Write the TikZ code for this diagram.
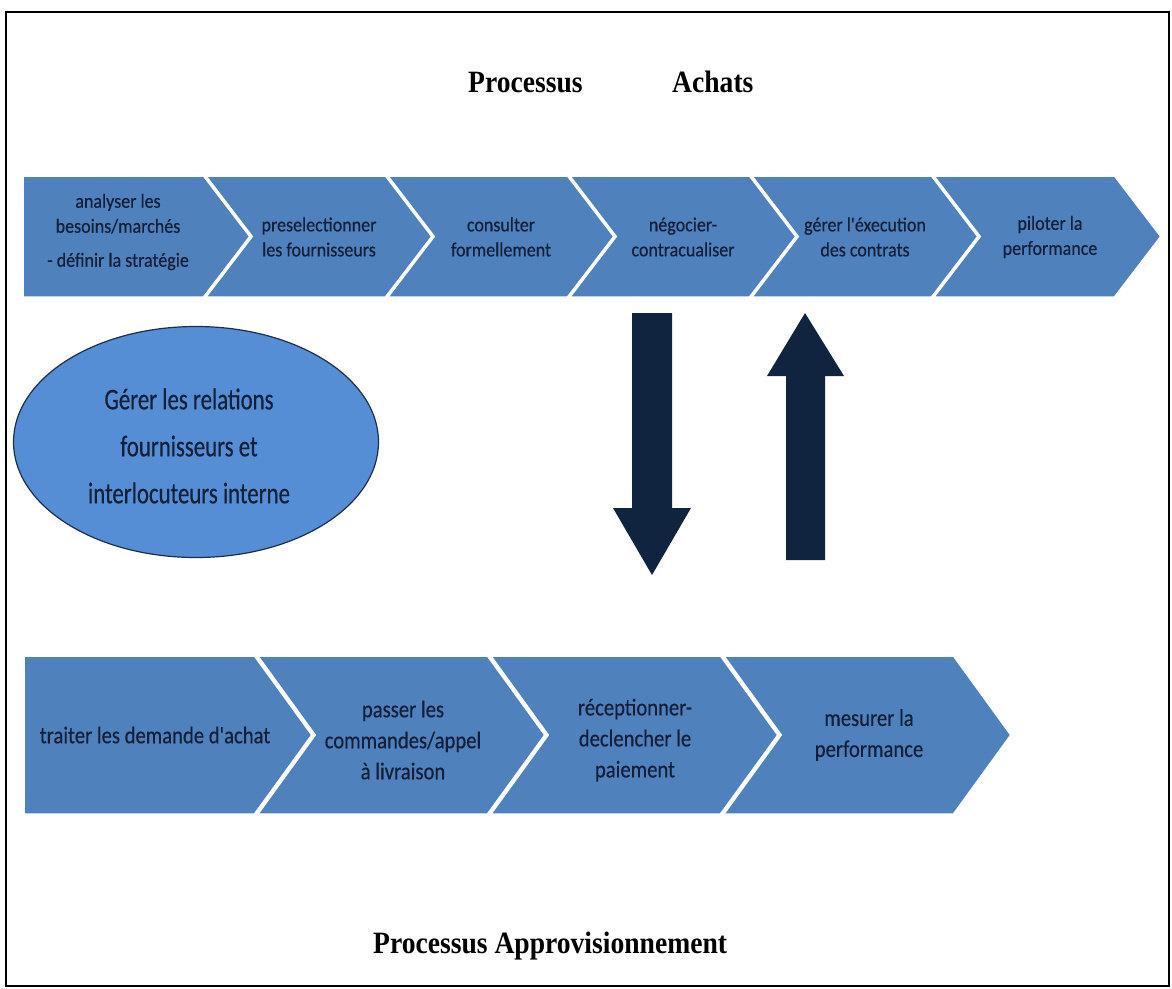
\documentclass[tikz,border=0pt]{standalone}
\usepackage{fontspec}
\setmainfont{Liberation Serif}
\newfontfamily\titlefont[FakeStretch=0.89]{Liberation Serif}
\newfontfamily\chevfont[FakeStretch=0.9,FakeBold=0.4]{Carlito}
\newfontfamily\botfont[FakeStretch=0.86,FakeBold=0.4]{Carlito}
\newfontfamily\ellfont[FakeStretch=0.76,FakeBold=0.4]{Carlito}
\usetikzlibrary{shapes.geometric}
\definecolor{chevblue}{RGB}{79,129,189}
\definecolor{ellblue}{RGB}{85,142,213}
\definecolor{navy}{RGB}{16,36,64}
\definecolor{txtnavy}{RGB}{20,31,56}
\definecolor{ellline}{RGB}{30,45,75}
\tikzset{
  chev/.style={fill=chevblue, draw=white, line width=3.5pt, line join=miter},
  toptxt/.style={font=\chevfont\fontsize{20}{25}\selectfont, text=txtnavy, align=center, inner sep=0pt},
  bottxt/.style={font=\botfont\fontsize{24}{31}\selectfont, text=txtnavy, align=center, inner sep=0pt},
  titletxt/.style={font=\titlefont\bfseries\fontsize{31}{36}\selectfont, text=black, anchor=base west, inner sep=0pt},
  blockarrow/.style={fill=navy},
  frame/.style={draw=black, line width=2pt}
}
\begin{document}
\begin{tikzpicture}[x=1pt,y=-1pt]
\useasboundingbox (0,0) rectangle (1172,988);
\fill[white] (0,0) rectangle (1172,988);
\draw[frame] (6,12) rectangle (1169,986);

% titles
\node[titletxt] (ttlA) at (468,92) {Processus};
\node[titletxt] (ttlB) at (672,92) {Achats};
\node[titletxt] (ttlC) at (373,953) {Processus Approvisionnement};

% top chevrons
\path[chev] (22,175) -- (205,175) -- (252,236.5) -- (205,298) -- (22,298) -- cycle;
\foreach \L in {204,386,568,750,932}
  \path[chev] (\L,175) -- ++(183,0) -- ++(47,61.5) -- ++(-47,61.5) -- ++(-183,0) -- ++(47,-61.5) -- cycle;

\node[toptxt] (t1) at (118,232) {analyser les\\besoins/marchés\\[9pt]- définir la stratégie};
\node[toptxt] (t2) at (319,237) {preselectionner\\les fournisseurs};
\node[toptxt] (t3) at (501,237) {consulter\\formellement};
\node[toptxt] (t4) at (683,237) {négocier-\\contracualiser};
\node[toptxt] (t5) at (865,237) {gérer l'éxecution\\des contrats};
\node[toptxt] (t6) at (1050,237) {piloter la\\performance};

% bottom chevrons
\path[chev] (23,655) -- (255,655) -- (313,735) -- (255,815) -- (23,815) -- cycle;
\foreach \L in {256,489,722}
  \path[chev] (\L,655) -- ++(232,0) -- ++(58,80) -- ++(-58,80) -- ++(-232,0) -- ++(58,-80) -- cycle;

\node[bottxt] (b1) at (155,735) {traiter les demande d'achat};
\node[bottxt] (b2) at (403,740) {passer les\\commandes/appel\\à livraison};
\node[bottxt] (b3) at (635,740) {réceptionner-\\declencher le\\paiement};
\node[bottxt] (b4) at (869,735) {mesurer la\\performance};

% ellipse
\node[ellipse, fill=ellblue, draw=ellline, line width=1.2pt, minimum width=365pt, minimum height=231pt, inner sep=0pt] (ell) at (196,442) {};
\node[font=\ellfont\fontsize{30}{47}\selectfont, text=txtnavy, align=center, inner sep=0pt] (ellt) at (189,446) {Gérer les relations\\fournisseurs et\\interlocuteurs interne};

% block arrows
\fill[blockarrow] (632,313) -- (672,313) -- (672,508) -- (691,508) -- (652,575) -- (613,508) -- (632,508) -- cycle;
\fill[blockarrow] (805,313) -- (844,376) -- (825,376) -- (825,560) -- (786,560) -- (786,376) -- (767,376) -- cycle;
\end{tikzpicture}
\end{document}
